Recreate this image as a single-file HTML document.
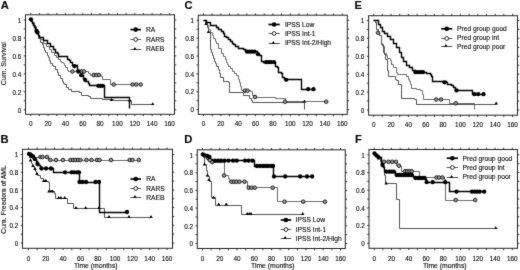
<!DOCTYPE html><html><head><meta charset="utf-8"><style>html,body{margin:0;padding:0;background:#fff;width:520px;height:270px;overflow:hidden}svg{display:block;will-change:transform} text{font-family:"Liberation Sans", sans-serif;fill:#000;stroke:#000;stroke-width:0.1px}</style></head><body>
<svg width="520" height="270" viewBox="0 0 520 270">
<defs><filter id="bl" color-interpolation-filters="sRGB" x="0" y="0" width="520" height="270" filterUnits="userSpaceOnUse"><feConvolveMatrix order="3" kernelMatrix="1 2 1 2 24 2 1 2 1" edgeMode="duplicate" preserveAlpha="true"/></filter></defs>
<g filter="url(#bl)">
<rect width="520" height="270" fill="#fff"/>
<text x="0.7" y="8.5" font-size="11.2" font-weight="bold" fill="#000">A</text>
<text x="184.4" y="8.6" font-size="11.2" font-weight="bold" fill="#000">C</text>
<text x="354.6" y="8.5" font-size="11.2" font-weight="bold" fill="#000">E</text>
<text x="0.4" y="142.9" font-size="11.2" font-weight="bold" fill="#000">B</text>
<text x="184.3" y="142.9" font-size="11.2" font-weight="bold" fill="#000">D</text>
<text x="354.9" y="142.9" font-size="11.2" font-weight="bold" fill="#000">F</text>
<rect x="25.5" y="14.8" width="149.00" height="99.50" fill="none" stroke="#222" stroke-width="1"/>
<path d="M30.70 14.8v-1.8M30.70 114.3v1.8M39.38 14.8v-1.8M39.38 114.3v1.8M48.05 14.8v-1.8M48.05 114.3v1.8M56.73 14.8v-1.8M56.73 114.3v1.8M65.40 14.8v-1.8M65.40 114.3v1.8M74.08 14.8v-1.8M74.08 114.3v1.8M82.75 14.8v-1.8M82.75 114.3v1.8M91.43 14.8v-1.8M91.43 114.3v1.8M100.10 14.8v-1.8M100.10 114.3v1.8M108.78 14.8v-1.8M108.78 114.3v1.8M117.45 14.8v-1.8M117.45 114.3v1.8M126.13 14.8v-1.8M126.13 114.3v1.8M134.80 14.8v-1.8M134.80 114.3v1.8M143.47 14.8v-1.8M143.47 114.3v1.8M152.15 14.8v-1.8M152.15 114.3v1.8M160.82 14.8v-1.8M160.82 114.3v1.8M169.50 14.8v-1.8M169.50 114.3v1.8M25.5 109.80h-1.8M174.5 109.80h1.8M25.5 100.82h-1.8M174.5 100.82h1.8M25.5 91.84h-1.8M174.5 91.84h1.8M25.5 82.86h-1.8M174.5 82.86h1.8M25.5 73.88h-1.8M174.5 73.88h1.8M25.5 64.90h-1.8M174.5 64.90h1.8M25.5 55.92h-1.8M174.5 55.92h1.8M25.5 46.94h-1.8M174.5 46.94h1.8M25.5 37.96h-1.8M174.5 37.96h1.8M25.5 28.98h-1.8M174.5 28.98h1.8M25.5 20.00h-1.8M174.5 20.00h1.8" stroke="#222" stroke-width="0.9" fill="none"/>
<text x="30.70" y="125.90" text-anchor="middle" font-size="6.4">0</text>
<text x="48.05" y="125.90" text-anchor="middle" font-size="6.4">20</text>
<text x="65.40" y="125.90" text-anchor="middle" font-size="6.4">40</text>
<text x="82.75" y="125.90" text-anchor="middle" font-size="6.4">60</text>
<text x="100.10" y="125.90" text-anchor="middle" font-size="6.4">80</text>
<text x="117.45" y="125.90" text-anchor="middle" font-size="6.4">100</text>
<text x="134.80" y="125.90" text-anchor="middle" font-size="6.4">120</text>
<text x="152.15" y="125.90" text-anchor="middle" font-size="6.4">140</text>
<text x="169.50" y="125.90" text-anchor="middle" font-size="6.4">160</text>
<text x="21.30" y="112.50" text-anchor="end" font-size="6.4">0</text>
<text x="21.30" y="94.54" text-anchor="end" font-size="6.4">0.2</text>
<text x="21.30" y="76.58" text-anchor="end" font-size="6.4">0.4</text>
<text x="21.30" y="58.62" text-anchor="end" font-size="6.4">0.6</text>
<text x="21.30" y="40.66" text-anchor="end" font-size="6.4">0.8</text>
<text x="21.30" y="22.70" text-anchor="end" font-size="6.4">1</text>
<rect x="198.3" y="15.2" width="149.00" height="99.20" fill="none" stroke="#222" stroke-width="1"/>
<path d="M203.50 15.2v-1.8M203.50 114.4v1.8M212.18 15.2v-1.8M212.18 114.4v1.8M220.85 15.2v-1.8M220.85 114.4v1.8M229.53 15.2v-1.8M229.53 114.4v1.8M238.20 15.2v-1.8M238.20 114.4v1.8M246.88 15.2v-1.8M246.88 114.4v1.8M255.55 15.2v-1.8M255.55 114.4v1.8M264.23 15.2v-1.8M264.23 114.4v1.8M272.90 15.2v-1.8M272.90 114.4v1.8M281.57 15.2v-1.8M281.57 114.4v1.8M290.25 15.2v-1.8M290.25 114.4v1.8M298.93 15.2v-1.8M298.93 114.4v1.8M307.60 15.2v-1.8M307.60 114.4v1.8M316.27 15.2v-1.8M316.27 114.4v1.8M324.95 15.2v-1.8M324.95 114.4v1.8M333.62 15.2v-1.8M333.62 114.4v1.8M342.30 15.2v-1.8M342.30 114.4v1.8M198.3 109.60h-1.8M347.3 109.60h1.8M198.3 100.67h-1.8M347.3 100.67h1.8M198.3 91.74h-1.8M347.3 91.74h1.8M198.3 82.81h-1.8M347.3 82.81h1.8M198.3 73.88h-1.8M347.3 73.88h1.8M198.3 64.95h-1.8M347.3 64.95h1.8M198.3 56.02h-1.8M347.3 56.02h1.8M198.3 47.09h-1.8M347.3 47.09h1.8M198.3 38.16h-1.8M347.3 38.16h1.8M198.3 29.23h-1.8M347.3 29.23h1.8M198.3 20.30h-1.8M347.3 20.30h1.8" stroke="#222" stroke-width="0.9" fill="none"/>
<text x="203.50" y="126.00" text-anchor="middle" font-size="6.4">0</text>
<text x="220.85" y="126.00" text-anchor="middle" font-size="6.4">20</text>
<text x="238.20" y="126.00" text-anchor="middle" font-size="6.4">40</text>
<text x="255.55" y="126.00" text-anchor="middle" font-size="6.4">60</text>
<text x="272.90" y="126.00" text-anchor="middle" font-size="6.4">80</text>
<text x="290.25" y="126.00" text-anchor="middle" font-size="6.4">100</text>
<text x="307.60" y="126.00" text-anchor="middle" font-size="6.4">120</text>
<text x="324.95" y="126.00" text-anchor="middle" font-size="6.4">140</text>
<text x="342.30" y="126.00" text-anchor="middle" font-size="6.4">160</text>
<text x="194.10" y="112.30" text-anchor="end" font-size="6.4">0</text>
<text x="194.10" y="94.44" text-anchor="end" font-size="6.4">0.2</text>
<text x="194.10" y="76.58" text-anchor="end" font-size="6.4">0.4</text>
<text x="194.10" y="58.72" text-anchor="end" font-size="6.4">0.6</text>
<text x="194.10" y="40.86" text-anchor="end" font-size="6.4">0.8</text>
<text x="194.10" y="23.00" text-anchor="end" font-size="6.4">1</text>
<rect x="368.6" y="15.7" width="148.90" height="99.50" fill="none" stroke="#222" stroke-width="1"/>
<path d="M373.70 15.7v-1.8M373.70 115.2v1.8M382.38 15.7v-1.8M382.38 115.2v1.8M391.05 15.7v-1.8M391.05 115.2v1.8M399.72 15.7v-1.8M399.72 115.2v1.8M408.40 15.7v-1.8M408.40 115.2v1.8M417.07 15.7v-1.8M417.07 115.2v1.8M425.75 15.7v-1.8M425.75 115.2v1.8M434.43 15.7v-1.8M434.43 115.2v1.8M443.10 15.7v-1.8M443.10 115.2v1.8M451.77 15.7v-1.8M451.77 115.2v1.8M460.45 15.7v-1.8M460.45 115.2v1.8M469.12 15.7v-1.8M469.12 115.2v1.8M477.80 15.7v-1.8M477.80 115.2v1.8M486.48 15.7v-1.8M486.48 115.2v1.8M495.15 15.7v-1.8M495.15 115.2v1.8M503.82 15.7v-1.8M503.82 115.2v1.8M512.50 15.7v-1.8M512.50 115.2v1.8M368.6 110.00h-1.8M517.5 110.00h1.8M368.6 101.05h-1.8M517.5 101.05h1.8M368.6 92.10h-1.8M517.5 92.10h1.8M368.6 83.15h-1.8M517.5 83.15h1.8M368.6 74.20h-1.8M517.5 74.20h1.8M368.6 65.25h-1.8M517.5 65.25h1.8M368.6 56.30h-1.8M517.5 56.30h1.8M368.6 47.35h-1.8M517.5 47.35h1.8M368.6 38.40h-1.8M517.5 38.40h1.8M368.6 29.45h-1.8M517.5 29.45h1.8M368.6 20.50h-1.8M517.5 20.50h1.8" stroke="#222" stroke-width="0.9" fill="none"/>
<text x="373.70" y="126.80" text-anchor="middle" font-size="6.4">0</text>
<text x="391.05" y="126.80" text-anchor="middle" font-size="6.4">20</text>
<text x="408.40" y="126.80" text-anchor="middle" font-size="6.4">40</text>
<text x="425.75" y="126.80" text-anchor="middle" font-size="6.4">60</text>
<text x="443.10" y="126.80" text-anchor="middle" font-size="6.4">80</text>
<text x="460.45" y="126.80" text-anchor="middle" font-size="6.4">100</text>
<text x="477.80" y="126.80" text-anchor="middle" font-size="6.4">120</text>
<text x="495.15" y="126.80" text-anchor="middle" font-size="6.4">140</text>
<text x="512.50" y="126.80" text-anchor="middle" font-size="6.4">160</text>
<text x="364.40" y="112.70" text-anchor="end" font-size="6.4">0</text>
<text x="364.40" y="94.80" text-anchor="end" font-size="6.4">0.2</text>
<text x="364.40" y="76.90" text-anchor="end" font-size="6.4">0.4</text>
<text x="364.40" y="59.00" text-anchor="end" font-size="6.4">0.6</text>
<text x="364.40" y="41.10" text-anchor="end" font-size="6.4">0.8</text>
<text x="364.40" y="23.20" text-anchor="end" font-size="6.4">1</text>
<rect x="22.5" y="149.3" width="150.00" height="99.00" fill="none" stroke="#222" stroke-width="1"/>
<path d="M28.50 149.3v-1.8M28.50 248.3v1.8M37.16 149.3v-1.8M37.16 248.3v1.8M45.81 149.3v-1.8M45.81 248.3v1.8M54.47 149.3v-1.8M54.47 248.3v1.8M63.12 149.3v-1.8M63.12 248.3v1.8M71.78 149.3v-1.8M71.78 248.3v1.8M80.44 149.3v-1.8M80.44 248.3v1.8M89.09 149.3v-1.8M89.09 248.3v1.8M97.75 149.3v-1.8M97.75 248.3v1.8M106.41 149.3v-1.8M106.41 248.3v1.8M115.06 149.3v-1.8M115.06 248.3v1.8M123.72 149.3v-1.8M123.72 248.3v1.8M132.38 149.3v-1.8M132.38 248.3v1.8M141.03 149.3v-1.8M141.03 248.3v1.8M149.69 149.3v-1.8M149.69 248.3v1.8M158.34 149.3v-1.8M158.34 248.3v1.8M167.00 149.3v-1.8M167.00 248.3v1.8M22.5 243.00h-1.8M172.5 243.00h1.8M22.5 234.15h-1.8M172.5 234.15h1.8M22.5 225.30h-1.8M172.5 225.30h1.8M22.5 216.45h-1.8M172.5 216.45h1.8M22.5 207.60h-1.8M172.5 207.60h1.8M22.5 198.75h-1.8M172.5 198.75h1.8M22.5 189.90h-1.8M172.5 189.90h1.8M22.5 181.05h-1.8M172.5 181.05h1.8M22.5 172.20h-1.8M172.5 172.20h1.8M22.5 163.35h-1.8M172.5 163.35h1.8M22.5 154.50h-1.8M172.5 154.50h1.8" stroke="#222" stroke-width="0.9" fill="none"/>
<text x="28.50" y="260.60" text-anchor="middle" font-size="6.4">0</text>
<text x="45.81" y="260.60" text-anchor="middle" font-size="6.4">20</text>
<text x="63.12" y="260.60" text-anchor="middle" font-size="6.4">40</text>
<text x="80.44" y="260.60" text-anchor="middle" font-size="6.4">60</text>
<text x="97.75" y="260.60" text-anchor="middle" font-size="6.4">80</text>
<text x="115.06" y="260.60" text-anchor="middle" font-size="6.4">100</text>
<text x="132.38" y="260.60" text-anchor="middle" font-size="6.4">120</text>
<text x="149.69" y="260.60" text-anchor="middle" font-size="6.4">140</text>
<text x="167.00" y="260.60" text-anchor="middle" font-size="6.4">160</text>
<text x="18.30" y="245.70" text-anchor="end" font-size="6.4">0</text>
<text x="18.30" y="228.00" text-anchor="end" font-size="6.4">0.2</text>
<text x="18.30" y="210.30" text-anchor="end" font-size="6.4">0.4</text>
<text x="18.30" y="192.60" text-anchor="end" font-size="6.4">0.6</text>
<text x="18.30" y="174.90" text-anchor="end" font-size="6.4">0.8</text>
<text x="18.30" y="157.20" text-anchor="end" font-size="6.4">1</text>
<rect x="197.3" y="149.8" width="148.00" height="98.70" fill="none" stroke="#222" stroke-width="1"/>
<path d="M202.50 149.8v-1.8M202.50 248.5v1.8M211.12 149.8v-1.8M211.12 248.5v1.8M219.75 149.8v-1.8M219.75 248.5v1.8M228.38 149.8v-1.8M228.38 248.5v1.8M237.00 149.8v-1.8M237.00 248.5v1.8M245.62 149.8v-1.8M245.62 248.5v1.8M254.25 149.8v-1.8M254.25 248.5v1.8M262.88 149.8v-1.8M262.88 248.5v1.8M271.50 149.8v-1.8M271.50 248.5v1.8M280.12 149.8v-1.8M280.12 248.5v1.8M288.75 149.8v-1.8M288.75 248.5v1.8M297.38 149.8v-1.8M297.38 248.5v1.8M306.00 149.8v-1.8M306.00 248.5v1.8M314.62 149.8v-1.8M314.62 248.5v1.8M323.25 149.8v-1.8M323.25 248.5v1.8M331.88 149.8v-1.8M331.88 248.5v1.8M340.50 149.8v-1.8M340.50 248.5v1.8M197.3 243.50h-1.8M345.3 243.50h1.8M197.3 234.65h-1.8M345.3 234.65h1.8M197.3 225.80h-1.8M345.3 225.80h1.8M197.3 216.95h-1.8M345.3 216.95h1.8M197.3 208.10h-1.8M345.3 208.10h1.8M197.3 199.25h-1.8M345.3 199.25h1.8M197.3 190.40h-1.8M345.3 190.40h1.8M197.3 181.55h-1.8M345.3 181.55h1.8M197.3 172.70h-1.8M345.3 172.70h1.8M197.3 163.85h-1.8M345.3 163.85h1.8M197.3 155.00h-1.8M345.3 155.00h1.8" stroke="#222" stroke-width="0.9" fill="none"/>
<text x="202.50" y="260.80" text-anchor="middle" font-size="6.4">0</text>
<text x="219.75" y="260.80" text-anchor="middle" font-size="6.4">20</text>
<text x="237.00" y="260.80" text-anchor="middle" font-size="6.4">40</text>
<text x="254.25" y="260.80" text-anchor="middle" font-size="6.4">60</text>
<text x="271.50" y="260.80" text-anchor="middle" font-size="6.4">80</text>
<text x="288.75" y="260.80" text-anchor="middle" font-size="6.4">100</text>
<text x="306.00" y="260.80" text-anchor="middle" font-size="6.4">120</text>
<text x="323.25" y="260.80" text-anchor="middle" font-size="6.4">140</text>
<text x="340.50" y="260.80" text-anchor="middle" font-size="6.4">160</text>
<text x="193.10" y="246.20" text-anchor="end" font-size="6.4">0</text>
<text x="193.10" y="228.50" text-anchor="end" font-size="6.4">0.2</text>
<text x="193.10" y="210.80" text-anchor="end" font-size="6.4">0.4</text>
<text x="193.10" y="193.10" text-anchor="end" font-size="6.4">0.6</text>
<text x="193.10" y="175.40" text-anchor="end" font-size="6.4">0.8</text>
<text x="193.10" y="157.70" text-anchor="end" font-size="6.4">1</text>
<rect x="369.0" y="149.5" width="148.50" height="98.80" fill="none" stroke="#222" stroke-width="1"/>
<path d="M374.30 149.5v-1.8M374.30 248.3v1.8M382.93 149.5v-1.8M382.93 248.3v1.8M391.55 149.5v-1.8M391.55 248.3v1.8M400.18 149.5v-1.8M400.18 248.3v1.8M408.80 149.5v-1.8M408.80 248.3v1.8M417.43 149.5v-1.8M417.43 248.3v1.8M426.05 149.5v-1.8M426.05 248.3v1.8M434.67 149.5v-1.8M434.67 248.3v1.8M443.30 149.5v-1.8M443.30 248.3v1.8M451.92 149.5v-1.8M451.92 248.3v1.8M460.55 149.5v-1.8M460.55 248.3v1.8M469.17 149.5v-1.8M469.17 248.3v1.8M477.80 149.5v-1.8M477.80 248.3v1.8M486.42 149.5v-1.8M486.42 248.3v1.8M495.05 149.5v-1.8M495.05 248.3v1.8M503.67 149.5v-1.8M503.67 248.3v1.8M512.30 149.5v-1.8M512.30 248.3v1.8M369.0 243.30h-1.8M517.5 243.30h1.8M369.0 234.45h-1.8M517.5 234.45h1.8M369.0 225.60h-1.8M517.5 225.60h1.8M369.0 216.75h-1.8M517.5 216.75h1.8M369.0 207.90h-1.8M517.5 207.90h1.8M369.0 199.05h-1.8M517.5 199.05h1.8M369.0 190.20h-1.8M517.5 190.20h1.8M369.0 181.35h-1.8M517.5 181.35h1.8M369.0 172.50h-1.8M517.5 172.50h1.8M369.0 163.65h-1.8M517.5 163.65h1.8M369.0 154.80h-1.8M517.5 154.80h1.8" stroke="#222" stroke-width="0.9" fill="none"/>
<text x="374.30" y="260.60" text-anchor="middle" font-size="6.4">0</text>
<text x="391.55" y="260.60" text-anchor="middle" font-size="6.4">20</text>
<text x="408.80" y="260.60" text-anchor="middle" font-size="6.4">40</text>
<text x="426.05" y="260.60" text-anchor="middle" font-size="6.4">60</text>
<text x="443.30" y="260.60" text-anchor="middle" font-size="6.4">80</text>
<text x="460.55" y="260.60" text-anchor="middle" font-size="6.4">100</text>
<text x="477.80" y="260.60" text-anchor="middle" font-size="6.4">120</text>
<text x="495.05" y="260.60" text-anchor="middle" font-size="6.4">140</text>
<text x="512.30" y="260.60" text-anchor="middle" font-size="6.4">160</text>
<text x="364.80" y="246.00" text-anchor="end" font-size="6.4">0</text>
<text x="364.80" y="228.30" text-anchor="end" font-size="6.4">0.2</text>
<text x="364.80" y="210.60" text-anchor="end" font-size="6.4">0.4</text>
<text x="364.80" y="192.90" text-anchor="end" font-size="6.4">0.6</text>
<text x="364.80" y="175.20" text-anchor="end" font-size="6.4">0.8</text>
<text x="364.80" y="157.50" text-anchor="end" font-size="6.4">1</text>
<text transform="translate(5.5,63.7) rotate(-90)" text-anchor="middle" font-size="6.9">Cum. Survival</text>
<text transform="translate(5.6,199.5) rotate(-90)" text-anchor="middle" font-size="6.8">Cum. Freedom of AML</text>
<text x="74.0" y="268" font-size="6.8">Time (months)</text>
<text x="251.0" y="268" font-size="6.8">Time (months)</text>
<text x="423.0" y="268" font-size="6.8">Time (months)</text>
<path d="M30.5 20.5H32.5V22.5H33.5V25.5H35.5V28.5H36.5V31.5H37.5V33.5H38.5V38.5H40.5V42.5H42.5V44.5H43.5V47.5H44.5V50.5H45.5V52.5H46.5V52.5H47.5V55.5H48.5V57.5H49.5V60.5H50.5V63.5H52.5V65.5H53.5V66.5H55.5V69.5H57.5V72.5H58.5V75.5H60.5V78.5H62.5V81.5H63.5V83.5H64.5V84.5H66.5V87.5H68.5V89.5H71.5V91.5H79.5V92.5H81.5V95.5H88.5V96.5H90.5V98.5H102.5V99.5H113.5V100.5H131.5V104.5H152.5V104.5" stroke="#404040" stroke-width="0.9" fill="none" stroke-linejoin="miter" />
<path d="M30.5 20.5H32.5V22.5H34.5V26.5H36.5V30.5H37.5V33.5H38.5V37.5H40.5V39.5H43.5V43.5H46.5V46.5H49.5V49.5H51.5V52.5H54.5V55.5H56.5V57.5H58.5V59.5H60.5V61.5H61.5V62.5H63.5V63.5H64.5V65.5H65.5V67.5H67.5V70.5H68.5V71.5H88.5V73.5H90.5V75.5H101.5V76.5H102.5V79.5H110.5V84.5H140.5V84.5" stroke="#5a5a5a" stroke-width="0.9" fill="none" stroke-linejoin="miter" />
<path d="M30.5 20.5H31.5V21.5H32.5V23.5H33.5V25.5H34.5V27.5H35.5V29.5H36.5V31.5H38.5V35.5H39.5V37.5H43.5V40.5H47.5V43.5H50.5V46.5H53.5V49.5H55.5V52.5H57.5V53.5H58.5V56.5H67.5V56.5H67.5V59.5H69.5V60.5H70.5V62.5H71.5V62.5H72.5V65.5H76.5V65.5H77.5V67.5H77.5V70.5H80.5V71.5H81.5V73.5H82.5V75.5H83.5V78.5H85.5V81.5H88.5V83.5H89.5V85.5H104.5V97.5H129.5V108.5" stroke="#000" stroke-width="1.4" fill="none" stroke-linejoin="miter" />
<path d="M109.75 100.90L111.50 97.95L113.25 100.90ZM127.75 101.40L129.50 98.45L131.25 101.40ZM150.95 105.10L152.70 102.15L154.45 105.10Z" fill="#000"/>
<g fill="#999" stroke="#111" stroke-width="0.9"><circle cx="72.5" cy="71.5" r="1.8"/><circle cx="81.7" cy="71.5" r="1.8"/><circle cx="84" cy="71.5" r="1.8"/><circle cx="93.7" cy="75" r="1.8"/><circle cx="96.5" cy="75" r="1.8"/><circle cx="99" cy="75" r="1.8"/><circle cx="113.7" cy="84.5" r="1.8"/><circle cx="132.5" cy="84.5" r="1.8"/><circle cx="136.2" cy="84.5" r="1.8"/><circle cx="140.7" cy="84.5" r="1.8"/></g>
<g fill="#000"><circle cx="30.9" cy="19.3" r="2.15"/><circle cx="36.5" cy="31" r="2.15"/><circle cx="37.3" cy="32.5" r="2.15"/><circle cx="74.5" cy="66.2" r="2.15"/><circle cx="78.2" cy="71.5" r="2.15"/><circle cx="81.2" cy="75.2" r="2.15"/><circle cx="85" cy="79.8" r="2.15"/><circle cx="98.2" cy="85.8" r="2.15"/><circle cx="100.5" cy="85.8" r="2.15"/><circle cx="102.5" cy="85.8" r="2.15"/></g>
<path d="M130.4 29.6H141" stroke="#000" stroke-width="1.7"/>
<g fill="#000"><circle cx="135.7" cy="29.6" r="2.3"/></g>
<path d="M130.4 39.5H141" stroke="#444" stroke-width="0.9"/>
<g fill="#fff" stroke="#111" stroke-width="0.9"><circle cx="135.7" cy="39.5" r="1.9"/></g>
<path d="M130.4 49.5H141" stroke="#333" stroke-width="0.9"/>
<path d="M133.20 49.80L134.90 46.90L136.60 49.80Z" fill="#000"/>
<text x="146" y="31.90" font-size="6.7">RA</text>
<text x="146" y="41.60" font-size="6.7">RARS</text>
<text x="146" y="51.40" font-size="6.7">RAEB</text>
<path d="M203.5 20.5H205.5V22.5H206.5V23.5H207.5V27.5H208.5V30.5H208.5V32.5H210.5V36.5H210.5V49.5H211.5V52.5H212.5V55.5H213.5V58.5H214.5V61.5H215.5V63.5H216.5V66.5H218.5V69.5H219.5V71.5H219.5V73.5H220.5V77.5H223.5V81.5H228.5V82.5H229.5V88.5H229.5V92.5H243.5V95.5H249.5V98.5H251.5V100.5H252.5V102.5H304.5V102.5H304.5V109.5" stroke="#404040" stroke-width="0.9" fill="none" stroke-linejoin="miter" />
<path d="M203.5 20.5H205.5V22.5H207.5V25.5H208.5V28.5H208.5V29.5H210.5V32.5H212.5V35.5H213.5V38.5H215.5V41.5H216.5V43.5H218.5V48.5H221.5V53.5H223.5V56.5H225.5V59.5H226.5V62.5H227.5V64.5H228.5V66.5H230.5V68.5H232.5V71.5H234.5V73.5H236.5V75.5H238.5V79.5H239.5V82.5H240.5V86.5H241.5V90.5H250.5V91.5H252.5V95.5H254.5V97.5H275.5V98.5H285.5V101.5H326.5V101.5" stroke="#5a5a5a" stroke-width="0.9" fill="none" stroke-linejoin="miter" />
<path d="M203.5 20.5H206.5V22.5H210.5V25.5H216.5V27.5H218.5V29.5H221.5V31.5H223.5V33.5H224.5V36.5H226.5V37.5H228.5V39.5H230.5V41.5H232.5V43.5H233.5V44.5H235.5V46.5H238.5V48.5H243.5V49.5H245.5V51.5H257.5V54.5H259.5V55.5H261.5V61.5H263.5V62.5H275.5V66.5H277.5V67.5H278.5V72.5H281.5V73.5H282.5V77.5H284.5V79.5H301.5V89.5H314.5V89.5" stroke="#000" stroke-width="1.4" fill="none" stroke-linejoin="miter" />
<path d="M204.25 24.90L206.00 21.95L207.75 24.90ZM206.75 32.90L208.50 29.95L210.25 32.90ZM302.75 102.60L304.50 99.65L306.25 102.60Z" fill="#000"/>
<g fill="#999" stroke="#111" stroke-width="0.9"><circle cx="245" cy="90.7" r="1.8"/><circle cx="247.5" cy="90.7" r="1.8"/><circle cx="255" cy="97" r="1.8"/><circle cx="285" cy="101.7" r="1.8"/><circle cx="326.2" cy="101.7" r="1.8"/></g>
<g fill="#000"><circle cx="247" cy="51.7" r="2.15"/><circle cx="249.5" cy="51.7" r="2.15"/><circle cx="252" cy="51.7" r="2.15"/><circle cx="254.5" cy="51.7" r="2.15"/><circle cx="258" cy="54.2" r="2.15"/><circle cx="266" cy="62.2" r="2.15"/><circle cx="268.5" cy="62.2" r="2.15"/><circle cx="271" cy="62.2" r="2.15"/><circle cx="274" cy="62.2" r="2.15"/><circle cx="286.2" cy="79.8" r="2.15"/><circle cx="308.2" cy="89.2" r="2.15"/><circle cx="313.5" cy="89.2" r="2.15"/></g>
<path d="M268.5 24.5H279.8" stroke="#000" stroke-width="1.7"/>
<g fill="#000"><circle cx="274.15" cy="24.5" r="2.3"/></g>
<path d="M268.5 33.5H279.8" stroke="#444" stroke-width="0.9"/>
<g fill="#fff" stroke="#111" stroke-width="0.9"><circle cx="274.15" cy="33.5" r="1.9"/></g>
<path d="M268.5 43.5H279.8" stroke="#333" stroke-width="0.9"/>
<path d="M271.65 43.80L273.35 40.90L275.05 43.80Z" fill="#000"/>
<text x="285" y="26.80" font-size="6.7">IPSS Low</text>
<text x="285" y="36.10" font-size="6.7">IPSS Int-1</text>
<text x="285" y="45.30" font-size="6.7">IPSS Int-2/High</text>
<path d="M373.5 20.5H375.5V22.5H376.5V29.5H378.5V32.5H379.5V35.5H381.5V39.5H381.5V44.5H383.5V52.5H384.5V54.5H385.5V59.5H387.5V64.5H387.5V70.5H388.5V76.5H393.5V76.5H395.5V79.5H396.5V80.5H398.5V84.5H401.5V89.5H401.5V98.5H414.5V99.5H416.5V104.5H496.5V104.5" stroke="#404040" stroke-width="0.9" fill="none" stroke-linejoin="miter" />
<path d="M373.5 20.5H375.5V22.5H376.5V29.5H378.5V32.5H379.5V35.5H381.5V39.5H381.5V43.5H382.5V46.5H384.5V53.5H386.5V55.5H387.5V58.5H390.5V60.5H391.5V64.5H393.5V67.5H396.5V72.5H397.5V74.5H406.5V76.5H408.5V79.5H409.5V81.5H410.5V84.5H411.5V88.5H416.5V89.5H420.5V90.5H422.5V94.5H423.5V99.5H449.5V103.5H474.5V103.5H474.5V109.5" stroke="#5a5a5a" stroke-width="0.9" fill="none" stroke-linejoin="miter" />
<path d="M373.5 20.5H375.5V20.5H378.5V24.5H380.5V27.5H382.5V31.5H384.5V33.5H387.5V36.5H390.5V39.5H393.5V43.5H396.5V47.5H399.5V52.5H401.5V57.5H403.5V61.5H406.5V65.5H409.5V67.5H412.5V70.5H415.5V72.5H426.5V73.5H430.5V74.5H431.5V76.5H432.5V81.5H446.5V82.5H447.5V84.5H451.5V85.5H453.5V87.5H455.5V90.5H472.5V94.5H483.5V94.5" stroke="#000" stroke-width="1.4" fill="none" stroke-linejoin="miter" />
<path d="M494.45 104.40L496.20 101.45L497.95 104.40Z" fill="#000"/>
<g fill="#999" stroke="#111" stroke-width="0.9"><circle cx="378" cy="32.7" r="1.8"/><circle cx="436.2" cy="99.5" r="1.8"/><circle cx="441" cy="99.5" r="1.8"/><circle cx="455.7" cy="103.3" r="1.8"/></g>
<g fill="#000"><circle cx="415.5" cy="72.2" r="2.15"/><circle cx="418" cy="72.2" r="2.15"/><circle cx="420.5" cy="72.2" r="2.15"/><circle cx="423" cy="72.2" r="2.15"/><circle cx="444.5" cy="82.3" r="2.15"/><circle cx="456.5" cy="90.4" r="2.15"/><circle cx="474.5" cy="94.2" r="2.15"/><circle cx="478.2" cy="94.2" r="2.15"/><circle cx="483.5" cy="94.2" r="2.15"/></g>
<path d="M441.2 28.8H452.2" stroke="#000" stroke-width="1.7"/>
<g fill="#000"><circle cx="446.7" cy="28.8" r="2.3"/></g>
<path d="M441.2 38.5H452.2" stroke="#444" stroke-width="0.9"/>
<g fill="#fff" stroke="#111" stroke-width="0.9"><circle cx="446.7" cy="38.5" r="1.9"/></g>
<path d="M441.2 46.5H452.2" stroke="#333" stroke-width="0.9"/>
<path d="M444.20 46.80L445.90 43.90L447.60 46.80Z" fill="#000"/>
<text x="457" y="31.10" font-size="6.7">Pred group good</text>
<text x="457" y="40.30" font-size="6.7">Pred group int</text>
<text x="457" y="49.10" font-size="6.7">Pred group poor</text>
<path d="M28.5 154.5H29.5V157.5H30.5V160.5H31.5V163.5H32.5V166.5H34.5V169.5H35.5V171.5H36.5V173.5H37.5V175.5H40.5V178.5H43.5V180.5H46.5V181.5H48.5V182.5H49.5V187.5H49.5V191.5H54.5V193.5H55.5V198.5H67.5V203.5H73.5V208.5H104.5V217.5H151.5V217.5" stroke="#404040" stroke-width="0.9" fill="none" stroke-linejoin="miter" />
<path d="M28.5 154.5H29.5V157.5H48.5V160.5H138.5V160.5" stroke="#5a5a5a" stroke-width="0.9" fill="none" stroke-linejoin="miter" />
<path d="M28.5 154.5H30.5V155.5H33.5V156.5H34.5V159.5H36.5V161.5H37.5V163.5H38.5V165.5H40.5V168.5H53.5V172.5H79.5V182.5H99.5V212.5H127.5V212.5" stroke="#000" stroke-width="1.4" fill="none" stroke-linejoin="miter" />
<path d="M28.70 161.40L30.50 158.40L32.30 161.40ZM31.20 166.90L33.00 163.90L34.80 166.90ZM33.20 169.90L35.00 166.90L36.80 169.90ZM35.20 174.90L37.00 171.90L38.80 174.90ZM41.90 181.90L43.70 178.90L45.50 181.90ZM44.20 181.90L46.00 178.90L47.80 181.90ZM47.20 192.40L49.00 189.40L50.80 192.40ZM49.20 192.40L51.00 189.40L52.80 192.40ZM50.90 192.40L52.70 189.40L54.50 192.40ZM56.90 198.90L58.70 195.90L60.50 198.90ZM59.20 198.90L61.00 195.90L62.80 198.90ZM62.90 198.90L64.70 195.90L66.50 198.90ZM74.20 208.90L76.00 205.90L77.80 208.90ZM83.90 208.90L85.70 205.90L87.50 208.90ZM97.20 208.90L99.00 205.90L100.80 208.90ZM107.20 217.90L109.00 214.90L110.80 217.90ZM127.20 217.90L129.00 214.90L130.80 217.90ZM149.20 217.90L151.00 214.90L152.80 217.90Z" fill="#000"/>
<g fill="#999" stroke="#111" stroke-width="0.9"><circle cx="30.5" cy="154.5" r="1.8"/><circle cx="40.5" cy="157" r="1.8"/><circle cx="42.5" cy="157" r="1.8"/><circle cx="47" cy="157" r="1.8"/><circle cx="50.5" cy="160" r="1.8"/><circle cx="56" cy="160" r="1.8"/><circle cx="63" cy="160" r="1.8"/><circle cx="70.5" cy="160" r="1.8"/><circle cx="73" cy="160" r="1.8"/><circle cx="75.5" cy="160" r="1.8"/><circle cx="78" cy="160" r="1.8"/><circle cx="80.5" cy="160" r="1.8"/><circle cx="86.5" cy="160" r="1.8"/><circle cx="91.5" cy="160" r="1.8"/><circle cx="97" cy="160" r="1.8"/><circle cx="99.5" cy="160" r="1.8"/><circle cx="111" cy="160" r="1.8"/><circle cx="129.7" cy="160" r="1.8"/><circle cx="132.5" cy="160" r="1.8"/><circle cx="138.8" cy="160" r="1.8"/></g>
<g fill="#000"><circle cx="29" cy="154" r="2.15"/><circle cx="31" cy="155.3" r="2.15"/><circle cx="33" cy="156.5" r="2.15"/><circle cx="34.7" cy="159" r="2.15"/><circle cx="37.5" cy="164" r="2.15"/><circle cx="41.5" cy="168.5" r="2.15"/><circle cx="46" cy="168.5" r="2.15"/><circle cx="51" cy="168.5" r="2.15"/><circle cx="65" cy="172.3" r="2.15"/><circle cx="71.5" cy="172.3" r="2.15"/><circle cx="74" cy="172.3" r="2.15"/><circle cx="77" cy="172.3" r="2.15"/><circle cx="79" cy="172.3" r="2.15"/><circle cx="79.5" cy="182" r="2.15"/><circle cx="82.5" cy="182" r="2.15"/><circle cx="86" cy="182" r="2.15"/><circle cx="95.5" cy="182" r="2.15"/><circle cx="99" cy="182" r="2.15"/><circle cx="127" cy="212" r="2.15"/></g>
<path d="M130.5 179.0H141" stroke="#000" stroke-width="1.7"/>
<g fill="#000"><circle cx="135.75" cy="179.0" r="2.3"/></g>
<path d="M130.5 188.5H141" stroke="#444" stroke-width="0.9"/>
<g fill="#fff" stroke="#111" stroke-width="0.9"><circle cx="135.75" cy="188.5" r="1.9"/></g>
<path d="M130.5 197.5H141" stroke="#333" stroke-width="0.9"/>
<path d="M133.25 197.80L134.95 194.90L136.65 197.80Z" fill="#000"/>
<text x="146.2" y="181.30" font-size="6.7">RA</text>
<text x="146.2" y="190.50" font-size="6.7">RARS</text>
<text x="146.2" y="199.50" font-size="6.7">RAEB</text>
<path d="M202.5 155.5H203.5V157.5H204.5V164.5H206.5V170.5H207.5V176.5H209.5V181.5H211.5V197.5H215.5V199.5H215.5V205.5H241.5V214.5H302.5V214.5" stroke="#404040" stroke-width="0.9" fill="none" stroke-linejoin="miter" />
<path d="M202.5 155.5H204.5V156.5H206.5V157.5H208.5V160.5H210.5V162.5H224.5V175.5H228.5V178.5H229.5V181.5H247.5V187.5H277.5V201.5H325.5V201.5" stroke="#5a5a5a" stroke-width="0.9" fill="none" stroke-linejoin="miter" />
<path d="M202.5 155.5H203.5V155.5H205.5V156.5H207.5V157.5H209.5V158.5H210.5V159.5H212.5V160.5H254.5V166.5H273.5V176.5H312.5V176.5" stroke="#000" stroke-width="1.4" fill="none" stroke-linejoin="miter" />
<path d="M202.70 165.40L204.50 162.40L206.30 165.40ZM205.70 176.60L207.50 173.60L209.30 176.60ZM207.20 181.10L209.00 178.10L210.80 181.10ZM211.70 198.70L213.50 195.70L215.30 198.70ZM216.90 205.40L218.70 202.40L220.50 205.40ZM224.40 205.40L226.20 202.40L228.00 205.40ZM245.40 214.90L247.20 211.90L249.00 214.90ZM247.40 214.90L249.20 211.90L251.00 214.90ZM249.20 214.90L251.00 211.90L252.80 214.90ZM300.90 214.90L302.70 211.90L304.50 214.90Z" fill="#000"/>
<g fill="#999" stroke="#111" stroke-width="0.9"><circle cx="208" cy="158" r="1.8"/><circle cx="209.8" cy="160.2" r="1.8"/><circle cx="212.2" cy="162.2" r="1.8"/><circle cx="224" cy="175.5" r="1.8"/><circle cx="231.5" cy="181.7" r="1.8"/><circle cx="234" cy="181.7" r="1.8"/><circle cx="236.5" cy="181.7" r="1.8"/><circle cx="239.5" cy="181.7" r="1.8"/><circle cx="244.5" cy="181.7" r="1.8"/><circle cx="248.7" cy="187.7" r="1.8"/><circle cx="251.5" cy="187.7" r="1.8"/><circle cx="254.7" cy="187.7" r="1.8"/><circle cx="272.7" cy="187.7" r="1.8"/><circle cx="284.5" cy="201.7" r="1.8"/><circle cx="303.2" cy="201.7" r="1.8"/><circle cx="325" cy="201.7" r="1.8"/></g>
<g fill="#000"><circle cx="202.8" cy="154.5" r="2.15"/><circle cx="205" cy="155.3" r="2.15"/><circle cx="207.5" cy="156" r="2.15"/><circle cx="209.5" cy="157" r="2.15"/><circle cx="215" cy="160.7" r="2.15"/><circle cx="218" cy="160.7" r="2.15"/><circle cx="221" cy="160.7" r="2.15"/><circle cx="224.7" cy="160.7" r="2.15"/><circle cx="228.5" cy="160.7" r="2.15"/><circle cx="233" cy="160.7" r="2.15"/><circle cx="236.7" cy="160.7" r="2.15"/><circle cx="245" cy="160.7" r="2.15"/><circle cx="248.7" cy="160.7" r="2.15"/><circle cx="252.5" cy="160.7" r="2.15"/><circle cx="257" cy="166" r="2.15"/><circle cx="260" cy="166" r="2.15"/><circle cx="263" cy="166" r="2.15"/><circle cx="265.5" cy="166" r="2.15"/><circle cx="268" cy="166" r="2.15"/><circle cx="271" cy="166" r="2.15"/><circle cx="273" cy="166" r="2.15"/><circle cx="274" cy="176.5" r="2.15"/><circle cx="285.2" cy="176.5" r="2.15"/><circle cx="300.2" cy="176.5" r="2.15"/><circle cx="307" cy="176.5" r="2.15"/><circle cx="312.2" cy="176.5" r="2.15"/></g>
<path d="M280.7 220.0H291.2" stroke="#000" stroke-width="1.7"/>
<g fill="#000"><circle cx="285.95" cy="220.0" r="2.3"/></g>
<path d="M280.7 229.5H291.2" stroke="#444" stroke-width="0.9"/>
<g fill="#fff" stroke="#111" stroke-width="0.9"><circle cx="285.95" cy="229.5" r="1.9"/></g>
<path d="M280.7 238.5H291.2" stroke="#333" stroke-width="0.9"/>
<path d="M283.45 238.80L285.15 235.90L286.85 238.80Z" fill="#000"/>
<text x="295.7" y="222.30" font-size="6.7">IPSS Low</text>
<text x="295.7" y="232.00" font-size="6.7">IPSS Int-1</text>
<text x="295.7" y="241.00" font-size="6.7">IPSS Int-2/High</text>
<path d="M374.5 154.5H376.5V155.5H378.5V157.5H381.5V159.5H381.5V163.5H383.5V166.5H384.5V170.5H384.5V175.5H385.5V183.5H396.5V199.5H399.5V228.5H495.5V228.5" stroke="#404040" stroke-width="0.9" fill="none" stroke-linejoin="miter" />
<path d="M374.5 154.5H376.5V155.5H379.5V158.5H380.5V161.5H396.5V165.5H400.5V166.5H401.5V171.5H419.5V177.5H444.5V179.5H445.5V200.5H475.5V200.5" stroke="#5a5a5a" stroke-width="0.9" fill="none" stroke-linejoin="miter" />
<path d="M374.5 154.5H376.5V155.5H378.5V157.5H381.5V159.5H381.5V163.5H382.5V165.5H383.5V167.5H384.5V171.5H395.5V174.5H396.5V175.5H412.5V175.5H413.5V177.5H425.5V179.5H426.5V182.5H449.5V191.5H484.5V191.5" stroke="#000" stroke-width="1.4" fill="none" stroke-linejoin="miter" />
<path d="M384.45 184.40L386.20 181.45L387.95 184.40ZM494.05 229.10L495.80 226.15L497.55 229.10Z" fill="#000"/>
<g fill="#999" stroke="#111" stroke-width="0.9"><circle cx="384" cy="161.8" r="1.8"/><circle cx="388.5" cy="161.8" r="1.8"/><circle cx="392.2" cy="161.8" r="1.8"/><circle cx="396" cy="161.8" r="1.8"/><circle cx="399" cy="165.7" r="1.8"/><circle cx="405" cy="171.2" r="1.8"/><circle cx="407.2" cy="171.2" r="1.8"/><circle cx="409.5" cy="171.2" r="1.8"/><circle cx="411.7" cy="171.2" r="1.8"/><circle cx="436.5" cy="177.5" r="1.8"/><circle cx="439" cy="177.5" r="1.8"/><circle cx="442.5" cy="177.5" r="1.8"/><circle cx="455.7" cy="200" r="1.8"/><circle cx="475.2" cy="200" r="1.8"/></g>
<g fill="#000"><circle cx="374.5" cy="153.5" r="2.15"/><circle cx="376.5" cy="155.5" r="2.15"/><circle cx="378.7" cy="157.7" r="2.15"/><circle cx="382.5" cy="165" r="2.15"/><circle cx="386.2" cy="171.7" r="2.15"/><circle cx="389" cy="171.7" r="2.15"/><circle cx="391.5" cy="171.7" r="2.15"/><circle cx="393.7" cy="171.7" r="2.15"/><circle cx="396.7" cy="175" r="2.15"/><circle cx="399" cy="175" r="2.15"/><circle cx="401.2" cy="175" r="2.15"/><circle cx="403.5" cy="175" r="2.15"/><circle cx="405.7" cy="175" r="2.15"/><circle cx="408" cy="175" r="2.15"/><circle cx="410" cy="175" r="2.15"/><circle cx="411.7" cy="175" r="2.15"/><circle cx="415.5" cy="178" r="2.15"/><circle cx="418" cy="178" r="2.15"/><circle cx="420" cy="178" r="2.15"/><circle cx="422.2" cy="178" r="2.15"/><circle cx="424.5" cy="178" r="2.15"/><circle cx="426.7" cy="182.2" r="2.15"/><circle cx="432.7" cy="182.2" r="2.15"/><circle cx="445.2" cy="182.2" r="2.15"/><circle cx="456.5" cy="191.7" r="2.15"/><circle cx="472" cy="191.7" r="2.15"/><circle cx="474.5" cy="191.7" r="2.15"/><circle cx="477" cy="191.7" r="2.15"/><circle cx="479.7" cy="191.7" r="2.15"/><circle cx="484.2" cy="191.7" r="2.15"/></g>
<path d="M446.7 158.2H458" stroke="#000" stroke-width="1.7"/>
<g fill="#000"><circle cx="452.35" cy="158.2" r="2.3"/></g>
<path d="M446.7 167.5H458" stroke="#444" stroke-width="0.9"/>
<g fill="#fff" stroke="#111" stroke-width="0.9"><circle cx="452.35" cy="167.5" r="1.9"/></g>
<path d="M446.7 177.5H458" stroke="#333" stroke-width="0.9"/>
<path d="M449.85 177.80L451.55 174.90L453.25 177.80Z" fill="#000"/>
<text x="462.5" y="160.50" font-size="6.7">Pred group good</text>
<text x="462.5" y="170.00" font-size="6.7">Pred group int</text>
<text x="462.5" y="179.30" font-size="6.7">Pred group poor</text>
</g></svg></body></html>
